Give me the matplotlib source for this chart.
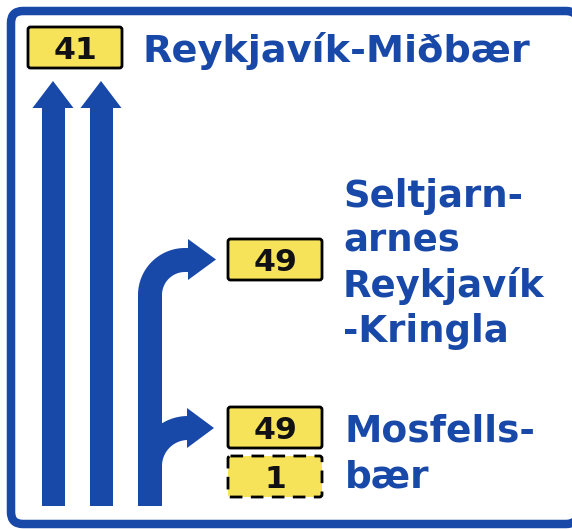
import numpy as np
import matplotlib
matplotlib.use('Agg')
import matplotlib.pyplot as plt
from matplotlib.patches import FancyBboxPatch, Polygon, Rectangle

# sign content
rutaBein = '41'
stadurBein = 'Reykjavík-Miðbær'
rutaEfri = '49'
stadirEfri = ['Seltjarn-', 'arnes', 'Reykjavík', '-Kringla']
rutaNedri = '49'
rutaNedriAukaleg = '1'
stadirNedri = ['Mosfells-', 'bær']

blar = '#1848a8'
gulur = '#f7e35a'
W, H = 572, 529
DPI = 100

def px2pt(p):
    return p * 72.0 / DPI

fig = plt.figure(figsize=(W / DPI, H / DPI), dpi=DPI)
ax = fig.add_axes([0, 0, 1, 1])
ax.set_xlim(0, W)
ax.set_ylim(H, 0)
ax.axis('off')

# frame (right edge is mostly cut off in the photo)
ramma = FancyBboxPatch((11, 11), 567, 513, boxstyle='round,pad=0,rounding_size=12',
                       fc='white', ec=blar, lw=px2pt(8.5))
ax.add_patch(ramma)

def skjoldur(x0, y0, texti, dashed=False):
    ls = (0, (4.5, 3)) if dashed else '-'
    box = FancyBboxPatch((x0, y0), 94, 41, boxstyle='round,pad=0,rounding_size=2.5',
                         fc=gulur, ec='black', lw=px2pt(2.8), ls=ls)
    ax.add_patch(box)
    ax.text(x0 + 47.5, y0 + 32, texti, fontsize=px2pt(31.5), fontweight='bold',
            color='#111111', ha='center', va='baseline', family='DejaVu Sans')

# straight up arrows
breidd = 23
for xc in [53, 101]:
    ax.add_patch(Rectangle((xc - breidd / 2, 105), breidd, 506 - 105, fc=blar, ec='none'))
    ax.add_patch(Polygon([(xc - 20.5, 108), (xc, 81), (xc + 20.5, 108)], closed=True,
                         fc=blar, ec='none'))

# third lane with two branches
xc = 150
ax.add_patch(Rectangle((xc - 12, 294), 24, 506 - 294, fc=blar, ec='none'))
t = np.linspace(np.pi, np.pi / 2, 60)
ax.plot(185 + 35 * np.cos(t), 295 - 35 * np.sin(t), color=blar, lw=px2pt(24),
        solid_capstyle='butt')
ax.add_patch(Rectangle((184, 248), 6, 24, fc=blar, ec='none'))
ax.add_patch(Polygon([(188, 239), (216, 259.5), (188, 280)], closed=True, fc=blar, ec='none'))

t = np.linspace(np.pi, np.pi / 2, 60)
ax.plot(188 + 38 * np.cos(t), 466 - 38 * np.sin(t), color=blar, lw=px2pt(24),
        solid_capstyle='butt')
ax.add_patch(Polygon([(187, 408), (214, 428), (187, 448)], closed=True, fc=blar, ec='none'))

# shields
skjoldur(28, 27, rutaBein)
skjoldur(228, 239, rutaEfri)
skjoldur(228, 407, rutaNedri)
skjoldur(228, 456, rutaNedriAukaleg, dashed=True)

# place names
ax.text(142, 62, stadurBein, fontsize=px2pt(38.2), fontweight='bold', color=blar,
        ha='left', va='baseline')
for i, s in enumerate(stadirEfri):
    ax.text(343, 207 + 45 * i, s, fontsize=px2pt(37), fontweight='bold', color=blar,
            ha='left', va='baseline')
for i, s in enumerate(stadirNedri):
    ax.text(345, 442 + 46 * i, s, fontsize=px2pt(37.5), fontweight='bold', color=blar,
            ha='left', va='baseline')

fig.savefig('out.png', dpi=DPI)
